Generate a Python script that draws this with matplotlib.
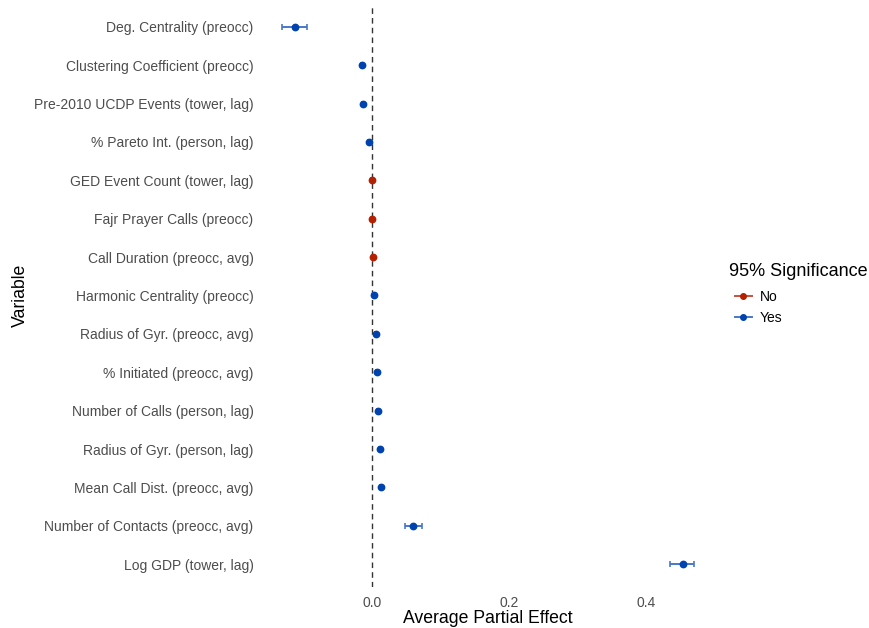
import matplotlib
matplotlib.use("Agg")
import matplotlib.pyplot as plt
from matplotlib.lines import Line2D

plt.rcParams['font.family'] = ['Liberation Sans', 'DejaVu Sans']

variables = [
    "Deg. Centrality (preocc)",
    "Clustering Coefficient (preocc)",
    "Pre-2010 UCDP Events (tower, lag)",
    "% Pareto Int. (person, lag)",
    "GED Event Count (tower, lag)",
    "Fajr Prayer Calls (preocc)",
    "Call Duration (preocc, avg)",
    "Harmonic Centrality (preocc)",
    "Radius of Gyr. (preocc, avg)",
    "% Initiated (preocc, avg)",
    "Number of Calls (person, lag)",
    "Radius of Gyr. (person, lag)",
    "Mean Call Dist. (preocc, avg)",
    "Number of Contacts (preocc, avg)",
    "Log GDP (tower, lag)",
]
effect = [-0.112, -0.0145, -0.013, -0.004, 0.0, 0.0, 0.001, 0.003, 0.006, 0.007,
          0.009, 0.012, 0.013, 0.060, 0.455]
lower = [-0.131, -0.0160, -0.0145, -0.0055, -0.0012, -0.0012, -0.0002, 0.0018, 0.0048,
         0.0058, 0.0078, 0.0108, 0.0118, 0.048, 0.435]
upper = [-0.095, -0.0130, -0.0115, -0.0025, 0.0012, 0.0012, 0.0022, 0.0042, 0.0072,
         0.0082, 0.0102, 0.0132, 0.0142, 0.073, 0.470]
significant = ["Yes", "Yes", "Yes", "Yes", "No", "No", "No", "Yes", "Yes", "Yes",
               "Yes", "Yes", "Yes", "Yes", "Yes"]

colors = {"No": "#B52000", "Yes": "#0042AE"}
bar_colors = {"No": "#C9503A", "Yes": "#4A78C8"}

W, H = 870, 628
fig = plt.figure(figsize=(W / 100, H / 100), dpi=100)
ax = fig.add_axes([0.301, 0.065, 0.52, 0.929])

n = len(variables)
ys = [n - i for i in range(n)]

ax.axvline(0, color="#333333", linestyle=(0, (4, 3)), linewidth=1.0, zorder=1)

for v, e, lo, hi, s, y in zip(variables, effect, lower, upper, significant, ys):
    ax.errorbar([e], [y], xerr=[[e - lo], [hi - e]], fmt='none',
                ecolor=bar_colors[s], elinewidth=1.4, capsize=2.5, capthick=1.2, zorder=2)
    ax.plot([e], [y], 'o', color=colors[s], markersize=4.6, zorder=3)

ax.set_yticks(ys)
ax.set_yticklabels(variables)
ax.set_xticks([0.0, 0.2, 0.4])
ax.set_xticklabels(["0.0", "0.2", "0.4"])
ax.set_xlim(-0.161, 0.50)
ax.set_ylim(0.4, n + 0.6)

for sp in ax.spines.values():
    sp.set_visible(False)
ax.tick_params(length=0, labelsize=10, colors="#4D4D4D", pad=6)
ax.set_xlabel("Average Partial Effect", fontsize=12.7, color="black", labelpad=0)
fig.text(20 / W, 1 - 295 / H, "Variable", fontsize=12.7, rotation=90,
         ha="center", va="center")

fig.text(729 / W, 1 - 272 / H, "95% Significance", fontsize=13, ha="left", va="center")
handles = [Line2D([0], [0], color=bar_colors[k], marker='o', markerfacecolor=colors[k],
                  markeredgecolor=colors[k], markersize=4, linewidth=1.4) for k in ["No", "Yes"]]
leg = fig.legend(handles, ["No", "Yes"], loc="upper left",
                 bbox_to_anchor=(735 / W, 1 - 290 / H), frameon=False, fontsize=10,
                 handlelength=1.2, handletextpad=0.6, labelspacing=0.5,
                 borderpad=0.0, borderaxespad=0.0)

fig.savefig("out.png", dpi=100)
